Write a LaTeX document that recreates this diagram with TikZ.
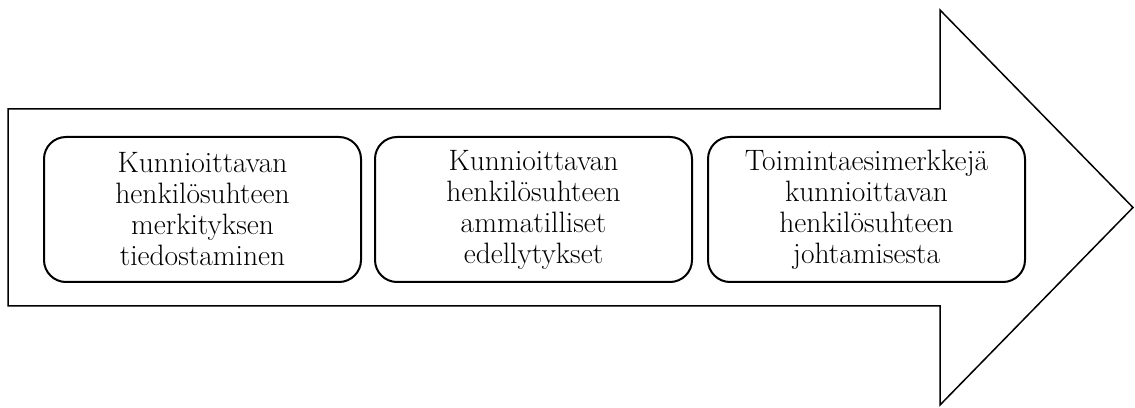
\documentclass[tikz,border=0pt]{standalone}
\begin{document}
\begin{tikzpicture}[x=1pt,y=1pt,
  stagebox/.style={draw=black, line width=2pt, rounded corners=22pt, fill=white,
    minimum width=317pt, minimum height=145pt, text width=310pt, align=center,
    inner sep=0pt, font=\fontsize{29.5}{31}\selectfont},
  arrowshape/.style={draw=black, line width=1.5pt, line join=miter, fill=white}]
\useasboundingbox (0,0) rectangle (1135,407);
\draw[arrowshape] (8,101) -- (8,298) -- (940,298) -- (940,397) -- (1133,199.5) -- (940,2) -- (940,101) -- cycle;
\node[stagebox] (s1) at (202.5,197.5) {Kunnioittavan\\henkilösuhteen\\merkityksen\\tiedostaminen};
\node[stagebox] (s2) at (533.5,197.5) {Kunnioittavan\\henkilösuhteen\\ammatilliset\\edellytykset};
\node[stagebox] (s3) at (866.5,197.5) {Toimintaesimerkkejä\\kunnioittavan\\henkilösuhteen\\johtamisesta};
\end{tikzpicture}
\end{document}
